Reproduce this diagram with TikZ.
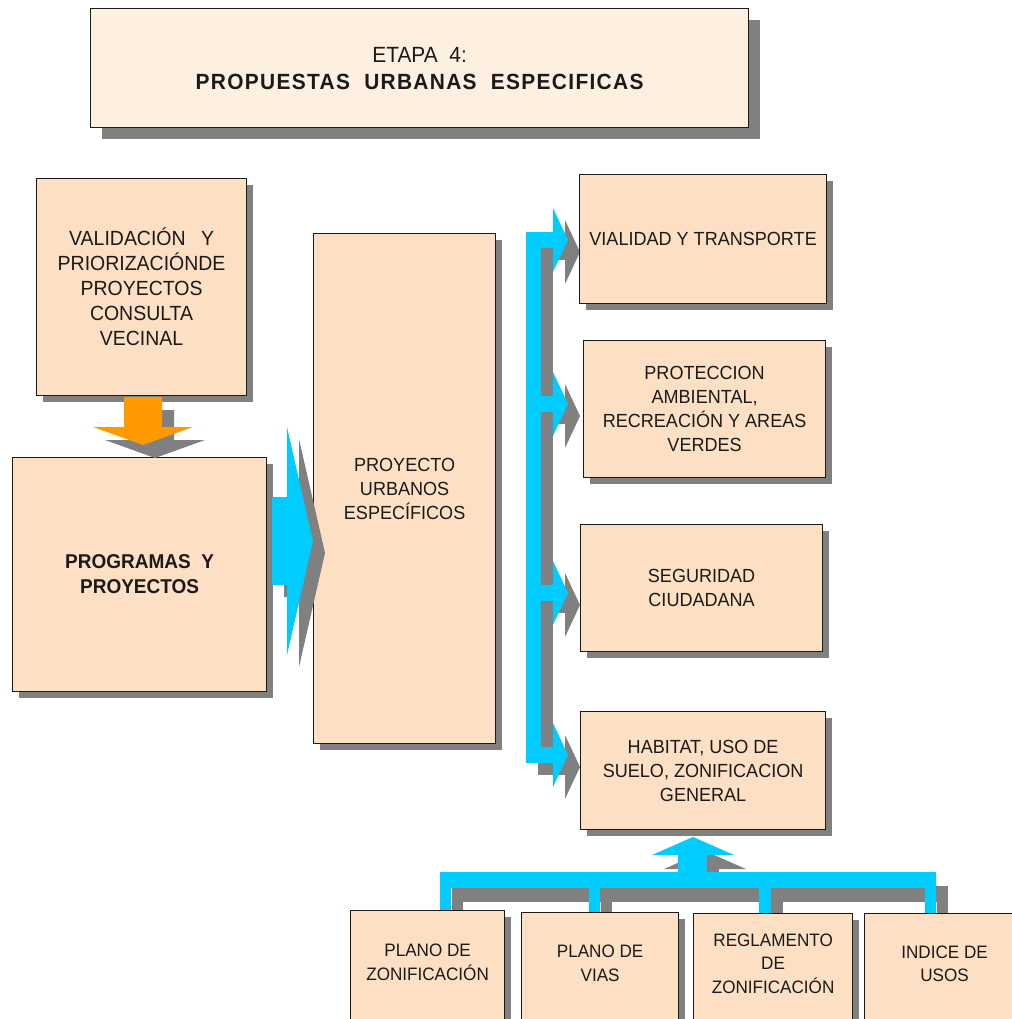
\documentclass[tikz,border=0pt]{standalone}
\usepackage{fontspec}
\setmainfont{Liberation Sans}[FakeStretch=0.95]
\newfontfamily\titlefont{Liberation Sans}[FakeStretch=0.95,LetterSpace=6]
\usetikzlibrary{shadows}
\definecolor{peach}{HTML}{FDE0C4}
\definecolor{titlefill}{HTML}{FEF0E1}
\definecolor{cyanx}{HTML}{00CCFF}
\definecolor{orangex}{HTML}{FF9900}
\definecolor{shadowgray}{HTML}{808080}
\definecolor{ink}{HTML}{1A1A1A}
\newcommand{\lowpad}{\rule[-17pt]{0pt}{0pt}}
\begin{document}
\begin{tikzpicture}[x=1pt,y=-1pt,
  basebox/.style={draw=ink, line width=1.2pt, fill=peach, anchor=north west,
    inner sep=0pt, align=center, text=ink, font=\fontsize{19}{24}\selectfont},
  box/.style={basebox, drop shadow={shadow xshift=6pt, shadow yshift=-6pt, fill=shadowgray, opacity=1}},
  titlebox/.style={basebox, fill=titlefill, drop shadow={shadow xshift=11pt, shadow yshift=-11pt, fill=shadowgray, opacity=1}},
  smallbox/.style={box, font=\fontsize{18}{23.5}\selectfont}
]
\fill[white] (0,0) rectangle (1011,1019);
\useasboundingbox (0,0) rectangle (1011,1019);

% right bracket (shadow then cyan)
\foreach \dx/\dy/\col in {12/12/shadowgray, 0/0/cyanx}{
  \begin{scope}[shift={(\dx,\dy)}]
    \fill[\col] (526,232) rectangle (541,763);
    \foreach \c in {240,404,593,755}{
      \fill[\col] (540,\c-8) rectangle (554,\c+8);
      \fill[\col] (553,\c-32) -- (568,\c) -- (553,\c+32) -- cycle;
    }
  \end{scope}
}

% bottom bracket (shadow then cyan)
\foreach \dx/\dy/\col in {12/14/shadowgray, 0/0/cyanx}{
  \begin{scope}[shift={(\dx,\dy)}]
    \fill[\col] (440,872) rectangle (936,888);
    \fill[\col] (440,887) rectangle (451,914);
    \fill[\col] (589,887) rectangle (600,914);
    \fill[\col] (759,887) rectangle (771,914);
    \fill[\col] (925,887) rectangle (936,914);
    \fill[\col] (678,873) rectangle (707,854);
    \fill[\col] (652,855) -- (693,837) -- (734,855) -- cycle;
  \end{scope}
}

% boxes
\node[titlebox, minimum width=658pt, minimum height=119pt] (title) at (90,8)
  {{\fontsize{22}{25}\selectfont ETAPA~~4:}\\[3pt]
   {\titlefont\bfseries\fontsize{22}{25}\selectfont PROPUESTAS~~URBANAS~~ESPECIFICAS}};

\node[box, minimum width=210pt, minimum height=217pt, font=\fontsize{20.5}{25}\selectfont] (val) at (36,178)
  {VALIDACIÓN\hspace{0.75em}Y\\PRIORIZACIÓNDE\\PROYECTOS\\CONSULTA\\VECINAL};

\node[box, minimum width=254pt, minimum height=234pt, font=\bfseries\fontsize{20}{25}\selectfont] (prog) at (12,457)
  {PROGRAMAS~~Y\\PROYECTOS};

\node[box, minimum width=182pt, minimum height=510pt] (proy) at (313,233)
  {PROYECTO\\URBANOS\\ESPECÍFICOS};

\node[box, minimum width=247pt, minimum height=129pt] (vial) at (579,174)
  {VIALIDAD Y TRANSPORTE};

\node[box, minimum width=242pt, minimum height=137pt] (prot) at (583,340)
  {PROTECCION\\AMBIENTAL,\\RECREACIÓN Y AREAS\\VERDES};

\node[box, minimum width=242pt, minimum height=127pt] (seg) at (580,524)
  {SEGURIDAD\\CIUDADANA};

\node[box, minimum width=245pt, minimum height=118pt] (hab) at (580,711)
  {HABITAT, USO DE\\SUELO, ZONIFICACION\\GENERAL};

\node[smallbox, minimum width=154pt, minimum height=120pt] (pz) at (350,910)
  {PLANO DE\\ZONIFICACIÓN\lowpad};
\node[smallbox, minimum width=157pt, minimum height=118pt] (pv) at (521,912)
  {PLANO DE\\VIAS\lowpad};
\node[smallbox, minimum width=159pt, minimum height=117pt] (rz) at (693,913)
  {REGLAMENTO\\DE\\ZONIFICACIÓN\lowpad};
\node[smallbox, minimum width=160pt, minimum height=117pt] (iu) at (864,913)
  {INDICE DE\\USOS\lowpad};

% orange arrow val -> prog
\foreach \dx/\dy/\col in {12/13/shadowgray, 0/0/orangex}{
  \fill[\col, shift={(\dx,\dy)}] (124,397) -- (162,397) -- (162,427) -- (193,427)
     -- (143,445) -- (93,427) -- (124,427) -- cycle;
}

% big cyan arrow prog -> proy
\foreach \dx/\dy/\col in {12/12/shadowgray, 0/0/cyanx}{
  \fill[\col, shift={(\dx,\dy)}] (272,497) -- (287,497) -- (287,427) -- (313,541)
     -- (287,655) -- (287,585) -- (272,585) -- cycle;
}
\end{tikzpicture}
\end{document}
